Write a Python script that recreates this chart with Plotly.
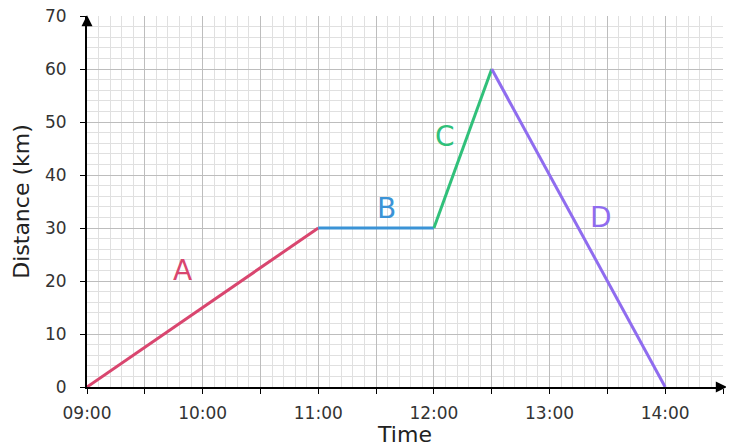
import plotly.graph_objects as go

# Journey data: clock times and distance from start (km)
times = ["09:00", "11:00", "12:00", "12:30", "14:00"]
distances = [0, 30, 30, 60, 0]

segment_names = ["A", "B", "C", "D"]
segment_colors = ["#d9466f", "#3b93d6", "#30c07a", "#8f6cef"]

x_tick_vals = [9, 9.5, 10, 10.5, 11, 11.5, 12, 12.5, 13, 13.5, 14, 14.5]
x_tick_text = ["09:00", "", "10:00", "", "11:00", "", "12:00", "", "13:00", "", "14:00", ""]


def to_hours(t):
    h, m = t.split(":")
    return int(h) + int(m) / 60


hours = [to_hours(t) for t in times]

# pixel offsets of each segment letter from the segment midpoint
label_shift = [(-20, 37), (10, 20), (-18, 12), (23, 11)]

fig = go.Figure()

for i, name in enumerate(segment_names):
    fig.add_trace(go.Scatter(
        x=hours[i:i + 2], y=distances[i:i + 2],
        mode="lines", line=dict(color=segment_colors[i], width=3),
        showlegend=False, cliponaxis=False,
    ))
    fig.add_annotation(
        x=(hours[i] + hours[i + 1]) / 2, y=(distances[i] + distances[i + 1]) / 2,
        text=name, showarrow=False,
        xshift=label_shift[i][0], yshift=label_shift[i][1],
        font=dict(size=28, color=segment_colors[i], family="DejaVu Sans"),
    )

# arrow heads on the axes
fig.add_annotation(x=1.006, y=0, xref="paper", yref="paper", ax=-12, ay=0,
                   showarrow=True, arrowhead=2, arrowsize=1.1, arrowwidth=2,
                   arrowcolor="black", text="")
fig.add_annotation(x=0, y=1.002, xref="paper", yref="paper", ax=0, ay=12,
                   showarrow=True, arrowhead=2, arrowsize=1.1, arrowwidth=2,
                   arrowcolor="black", text="")

fig.update_xaxes(
    range=[9, 14.5], tickvals=x_tick_vals, ticktext=x_tick_text,
    showline=True, linecolor="black", linewidth=2,
    ticks="outside", ticklen=5, tickcolor="black", ticklabelstandoff=5,
    showgrid=True, gridcolor="#bdbdbd", gridwidth=1, zeroline=False,
    minor=dict(dtick=0.1, tick0=9, showgrid=True, gridcolor="#e0e0e0", gridwidth=1),
    tickfont=dict(size=17, color="#333333", family="DejaVu Sans"),
    title=dict(text="Time", font=dict(size=22, color="#222222", family="DejaVu Sans"), standoff=6),
    automargin=False,
)
fig.update_yaxes(
    range=[0, 70], dtick=10, tick0=0,
    showline=True, linecolor="black", linewidth=2,
    ticks="outside", ticklen=5, tickcolor="black", ticklabelstandoff=10,
    ticklabeloverflow="allow",
    showgrid=True, gridcolor="#bdbdbd", gridwidth=1, zeroline=False,
    minor=dict(dtick=2, showgrid=True, gridcolor="#e0e0e0", gridwidth=1),
    tickfont=dict(size=17, color="#333333", family="DejaVu Sans"),
    title=dict(text="Distance (km)", font=dict(size=22, color="#222222", family="DejaVu Sans"), standoff=9),
    automargin=False,
)

# the page adds an 8px body margin, so the figure is sized to fit beside it
fig.update_layout(
    width=726, height=439,
    margin=dict(l=79, r=11, t=8, b=60),
    plot_bgcolor="white", paper_bgcolor="white",
    font=dict(family="DejaVu Sans"),
)

fig.write_html("out.html")
